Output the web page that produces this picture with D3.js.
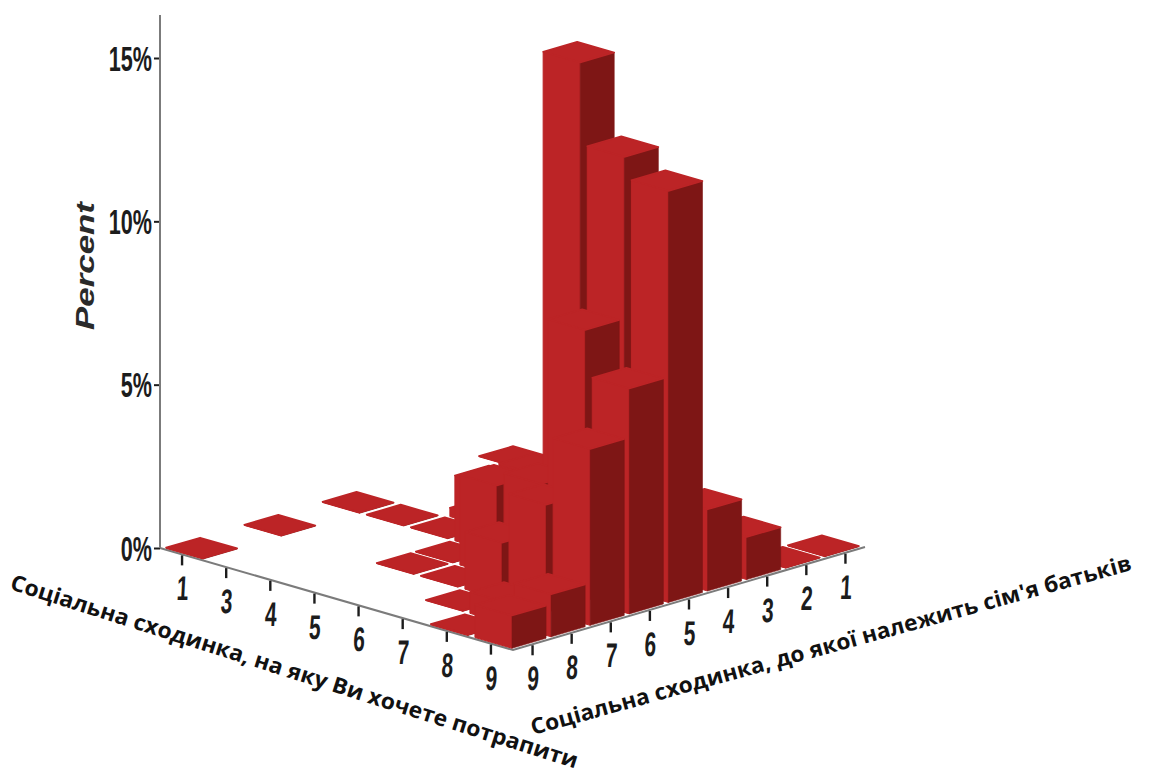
<!DOCTYPE html>
<html>
<head>
<meta charset="utf-8">
<script src="https://cdn.jsdelivr.net/npm/d3@7/dist/d3.min.js"></script>
<style>
html,body{margin:0;padding:0;background:#fff;overflow:hidden}
svg{display:block}
</style>
</head>
<body>
<svg id="chart" width="1149" height="773"></svg>
<script>
// ---- data ----
const leftCategories = ["1","3","4","5","6","7","8","9"];
const rightCategories = ["9","8","7","6","5","4","3","2","1"];
const percentTicks = [0,5,10,15];
const yTitle = "Percent";
const leftTitle = "Соціальна сходинка, на яку Ви хочете потрапити";
const rightTitle = "Соціальна сходинка, до якої належить сім'я батьків";
// percent per left category, columns follow rightCategories; null = no bar
const row1 = [0.02,null,0.02,null,0.02,null,null,null,0.02];
const row3 = [null,null,null,null,0.02,null,null,null,null];
const row4 = [null,null,null,null,0.02,0.27,null,null,null];
const row5 = [null,null,0.02,0.02,2.0,null,null,null,null];
const row6 = [null,null,0.02,2.76,2.75,null,null,null,null];
const row7 = [null,0.02,1.75,3.2,15.75,null,null,null,null];
const row8 = [0.02,0.65,3.3,8.3,13.25,null,null,null,null];
const row9 = [1.0,1.3,5.4,6.9,12.6,2.5,1.3,0.02,0.02];
const percentRows = [row1,row3,row4,row5,row6,row7,row8,row9];

// ---- scales: an oblique projection built from plain linear scales ----
const L = {x:160,y:548}, F = {x:513,y:650}, R = {x:865,y:547};
const nS = leftCategories.length, nT = rightCategories.length;
const sx = d3.scaleLinear().domain([0,nS]).range([0,F.x-L.x]);
const sy = d3.scaleLinear().domain([0,nS]).range([0,F.y-L.y]);
const tx = d3.scaleLinear().domain([0,nT]).range([0,R.x-F.x]);
const ty = d3.scaleLinear().domain([0,nT]).range([0,R.y-F.y]);
const y = d3.scaleLinear().domain([0,15]).range([548,58]);
const hpx = v => y(0)-y(v);
const sBand = d3.scaleBand().domain(leftCategories).range([0,nS]).paddingInner(0.16).paddingOuter(0.08);
const tBand = d3.scaleBand().domain(rightCategories).range([0,nT]).paddingInner(0.13).paddingOuter(0.065);
const project = (s,t,v) => [L.x+sx(s)+tx(t), L.y+sy(s)+ty(t)-hpx(v)];

const LIGHT = "#bc2426", DARK = "#7e1615", AXIS = "#7b7b7b", INK = "#1c1c1c";
const svg = d3.select("#chart");

// ---- iso axes ----
const axes = svg.append("g");
axes.append("path")
  .attr("d", d3.line()([project(0,0,0),project(nS,0,0),project(nS,nT,0)]))
  .attr("fill","none").attr("stroke",AXIS).attr("stroke-width",2);

function styleDigits(sel){
  sel.attr("transform","translate(0,46) skewX(-3) scale(0.95,1.55)")
    .attr("text-anchor","middle").attr("font-family","'Liberation Sans',sans-serif")
    .attr("font-weight","700").attr("font-size",22).attr("fill",INK);
}
const leftTicks = svg.append("g").selectAll("g").data(leftCategories).join("g")
  .attr("transform", d => { const p = project(sBand(d)+sBand.bandwidth()/2,0,0); return `translate(${p[0]},${p[1]})`; });
leftTicks.append("line").attr("y1",1).attr("y2",11).attr("stroke",INK).attr("stroke-width",2.4);
leftTicks.append("text").text(d=>d).call(styleDigits);

const rightTicks = svg.append("g").selectAll("g").data(rightCategories).join("g")
  .attr("transform", d => { const p = project(nS,tBand(d)+tBand.bandwidth()/2,0); return `translate(${p[0]},${p[1]})`; });
rightTicks.append("line").attr("y1",1).attr("y2",11).attr("stroke",INK).attr("stroke-width",2.4);
rightTicks.append("text").text(d=>d).call(styleDigits);

// ---- bars, painted from the back corner to the front corner ----
const cells = [];
percentRows.forEach((row,i) => row.forEach((v,j) => {
  if (v !== null) cells.push({a:leftCategories[i],b:rightCategories[j],i,j,v});
}));
cells.sort((p,q) => (p.i-p.j)-(q.i-q.j));
const poly = pts => "M"+pts.map(p=>p.join(",")).join("L")+"Z";
const w = sBand.bandwidth(), d = tBand.bandwidth();
const bars = svg.append("g").selectAll("g").data(cells).join("g");
bars.append("path").attr("fill",LIGHT).attr("stroke",LIGHT).attr("stroke-width",1).attr("d", c => {
  const s0=sBand(c.a), t0=tBand(c.b);
  return poly([project(s0,t0,0),project(s0+w,t0,0),project(s0+w,t0,c.v),project(s0,t0,c.v)]);
});
bars.append("path").attr("fill",DARK).attr("stroke",DARK).attr("stroke-width",0.6).attr("d", c => {
  const s1=sBand(c.a)+w, t0=tBand(c.b);
  return poly([project(s1,t0,0),project(s1,t0+d,0),project(s1,t0+d,c.v),project(s1,t0,c.v)]);
});
bars.append("path").attr("fill",LIGHT).attr("stroke",LIGHT).attr("stroke-width",1.6).attr("stroke-linejoin","round").attr("d", c => {
  const s0=sBand(c.a), t0=tBand(c.b);
  return poly([project(s0,t0,c.v),project(s0+w,t0,c.v),project(s0+w,t0+d,c.v),project(s0,t0+d,c.v)]);
});

// ---- vertical axis ----
const yAxis = svg.append("g").attr("transform",`translate(${L.x},0)`)
  .call(d3.axisLeft(y).tickValues(percentTicks).tickFormat(v=>v+"%").tickSize(6).tickPadding(2));
yAxis.select(".domain").remove();
yAxis.append("line").attr("x1",0).attr("x2",0).attr("y1",y(0)).attr("y2",15)
  .attr("stroke",AXIS).attr("stroke-width",2);
yAxis.selectAll(".tick line").attr("stroke",INK).attr("stroke-width",2);
yAxis.selectAll(".tick text").each(function(v){
  d3.select(this).attr("x",null).attr("dy",null)
     .attr("transform",`translate(-8,12) scale(0.9,1.5)`)
     .attr("text-anchor","end")
     .attr("font-family","'Liberation Sans',sans-serif")
     .attr("font-weight","700").attr("font-size",24).attr("fill",INK);
});

// ---- titles ----
svg.append("text").text(yTitle)
  .attr("transform","translate(94,266) rotate(-90)")
  .attr("text-anchor","middle").attr("font-family","'Liberation Sans',sans-serif")
  .attr("font-weight","700").attr("font-style","italic").attr("font-size",25)
  .attr("textLength",128).attr("lengthAdjust","spacingAndGlyphs").attr("fill","#2a2a2a");

svg.append("text").text(leftTitle)
  .attr("transform","translate(9,589) rotate(17.6)")
  .attr("font-family","'Open Sans',sans-serif").attr("font-weight","700").attr("font-size",22)
  .attr("textLength",594).attr("lengthAdjust","spacingAndGlyphs").attr("fill","#111");

svg.append("text").text(rightTitle)
  .attr("transform","translate(533,735) rotate(-15.4)")
  .attr("font-family","'Open Sans',sans-serif").attr("font-weight","700").attr("font-size",22)
  .attr("textLength",622).attr("lengthAdjust","spacingAndGlyphs").attr("fill","#111");
</script>
</body>
</html>
